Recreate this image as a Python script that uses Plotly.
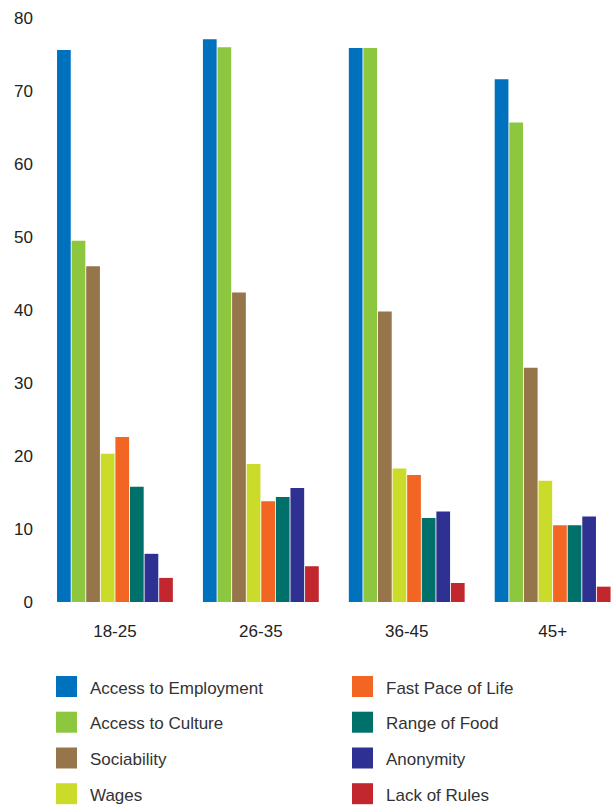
import plotly.graph_objects as go

categories = ["18-25", "26-35", "36-45", "45+"]

series_names = [
    "Access to Employment", "Access to Culture", "Sociability", "Wages",
    "Fast Pace of Life", "Range of Food", "Anonymity", "Lack of Rules",
]
series_colors = [
    "#0071BC", "#8DC63F", "#96754A", "#CBDB2A",
    "#F26522", "#00706B", "#2E3192", "#C1272D",
]

access_to_employment = [75.6, 77.1, 75.9, 71.6]
access_to_culture = [49.5, 76.0, 75.9, 65.7]
sociability = [46.0, 42.4, 39.8, 32.1]
wages = [20.3, 18.9, 18.3, 16.6]
fast_pace_of_life = [22.6, 13.8, 17.4, 10.5]
range_of_food = [15.8, 14.4, 11.5, 10.5]
anonymity = [6.6, 15.6, 12.4, 11.7]
lack_of_rules = [3.3, 4.9, 2.6, 2.1]

series_values = [
    access_to_employment, access_to_culture, sociability, wages,
    fast_pace_of_life, range_of_food, anonymity, lack_of_rules,
]

y_ticks = [0, 10, 20, 30, 40, 50, 60, 70, 80]

FONT = "Liberation Sans, Arial, sans-serif"
W, H = 611, 805
L, R, T, B = 42, 0, 18, 805 - 602
pw, ph = W - L - R, H - T - B


def px_x(p):
    # page pixel -> paper x
    return (p - L) / pw


def px_y(p):
    # page pixel -> paper y
    return (H - B - p) / ph


fig = go.Figure()
for name, color, vals in zip(series_names, series_colors, series_values):
    fig.add_trace(go.Bar(
        name=name, x=list(range(len(categories))), y=vals,
        marker=dict(color=color, line=dict(width=0)),
        showlegend=False,
    ))

# custom legend (two columns of four)
col_x = [56, 352]
row_y = [686.5, 722.2, 758.0, 793.7]
sq = 21
for i, (name, color) in enumerate(zip(series_names, series_colors)):
    c, r = divmod(i, 4)
    x0 = col_x[c]
    yc = row_y[r]
    fig.add_shape(type="rect", xref="paper", yref="paper",
                  x0=px_x(x0), x1=px_x(x0 + sq),
                  y0=px_y(yc + sq / 2), y1=px_y(yc - sq / 2),
                  fillcolor=color, line=dict(width=0), layer="above")
    fig.add_annotation(xref="paper", yref="paper",
                       x=px_x(x0 + 32), y=px_y(yc + 1.5),
                       xanchor="left", yanchor="middle", showarrow=False,
                       text=name, font=dict(family=FONT, size=17, color="#333333"))

fig.update_layout(
    width=W, height=H,
    margin=dict(l=L, r=R, t=T, b=B, pad=0),
    paper_bgcolor="white", plot_bgcolor="white",
    barmode="group", bargap=0.2, bargroupgap=0.06,
    font=dict(family=FONT, size=17, color="#222222"),
    xaxis=dict(
        tickmode="array", tickvals=list(range(len(categories))), ticktext=categories,
        range=[-0.5, 3.4], showgrid=False, zeroline=False, showline=False,
        ticks="", ticklabelstandoff=17, fixedrange=True,
    ),
    yaxis=dict(
        range=[0, 80], tickmode="array", tickvals=y_ticks,
        showgrid=False, zeroline=False, showline=False,
        ticks="", ticklabelstandoff=8, fixedrange=True,
    ),
)

fig.write_html(
    "out.html",
    config={"displayModeBar": False},
    post_script="document.body.style.margin='0';document.body.style.overflow='hidden';",
)
